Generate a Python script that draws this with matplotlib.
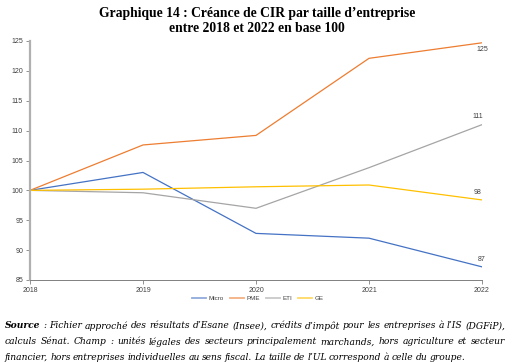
import matplotlib
matplotlib.use("Agg")
import matplotlib.pyplot as plt

years = [2018, 2019, 2020, 2021, 2022]
series_names = ["Micro", "PME", "ETI", "GE"]
micro = [100, 103.0, 92.8, 92.0, 87.2]
pme = [100, 107.6, 109.2, 122.1, 124.7]
eti = [100, 99.6, 97.0, 103.8, 111.0]
ge = [100, 100.2, 100.6, 100.9, 98.4]
end_labels = ["87", "125", "111", "98"]
y_ticks = [85, 90, 95, 100, 105, 110, 115, 120, 125]

source_lines = [
    "Source : Fichier approché des résultats d’Esane (Insee), crédits d’impôt pour les entreprises à l’IS (DGFiP),",
    "calculs Sénat. Champ : unités légales des secteurs principalement marchands, hors agriculture et secteur",
    "financier, hors entreprises individuelles au sens fiscal. La taille de l’UL correspond à celle du groupe.",
]

colors = ["#4472C4", "#ED7D31", "#A5A5A5", "#FFC000"]
values = [micro, pme, eti, ge]

W, H = 514, 362
fig = plt.figure(figsize=(W / 100, H / 100), dpi=100)
ax = fig.add_axes([30 / W, 1 - 280 / H, 452 / W, 239 / H])

for name, vals, c in zip(series_names, values, colors):
    ax.plot(years, vals, color=c, linewidth=0.9, label=name)

# labels at the last point
offsets = [(0, 3, "bottom"), (0, -2, "top"), (-3, 3, "bottom"), (-3, 3, "bottom")]
for vals, lab, (dx, dy, va) in zip(values, end_labels, offsets):
    ax.annotate(lab, (years[-1], vals[-1]), xytext=(dx, dy), textcoords="offset points",
                ha="center", va=va, fontsize=5, color="#404040", family="Liberation Sans")

ax.set_xlim(2018, 2022)
ax.set_ylim(85, 125)
ax.set_xticks(years)
ax.set_yticks(y_ticks)
ax.tick_params(axis="both", labelsize=5, colors="#808080", labelcolor="#404040",
               length=3, width=0.6, pad=2)
for lab in ax.get_xticklabels() + ax.get_yticklabels():
    lab.set_family("Liberation Sans")
for s in ["top", "right"]:
    ax.spines[s].set_visible(False)
ax.spines["left"].set_color("#b0b0b0")
ax.spines["left"].set_linewidth(1.6)
ax.spines["bottom"].set_color("#808080")
ax.spines["bottom"].set_linewidth(0.7)

leg = fig.legend(loc="center", bbox_to_anchor=(258 / W, 1 - 298 / H), ncol=4, frameon=False,
                 prop={"family": "Liberation Sans", "size": 4.5}, handlelength=2.2,
                 handletextpad=0.4, columnspacing=1.0)
for t in leg.get_texts():
    t.set_color("#404040")
for h in leg.get_lines():
    h.set_linewidth(1.3)
    h.set_alpha(0.6)

fig.text(0.5, 1 - 13 / H, "Graphique 14 : Créance de CIR par taille d’entreprise",
         ha="center", va="center", fontsize=9.8, fontweight="bold", family="Liberation Serif")
fig.text(0.5, 1 - 28 / H, "entre 2018 et 2022 en base 100",
         ha="center", va="center", fontsize=9.8, fontweight="bold", family="Liberation Serif")

# justified source note, word by word
src_font = {"family": "DejaVu Serif", "size": 6.6, "style": "italic"}
x_left, x_right = 5, 505
line_y = [326, 342, 357]
renderer = fig.canvas.get_renderer()
probe_sp = fig.text(0, 0, "a a", **src_font)
probe_aa = fig.text(0, 0, "aa", **src_font)
nat_gap = 0.8 * (probe_sp.get_window_extent(renderer).width - probe_aa.get_window_extent(renderer).width)
probe_sp.remove()
probe_aa.remove()
for i, (line, yy) in enumerate(zip(source_lines, line_y)):
    words = line.split(" ")
    texts = []
    for j, w in enumerate(words):
        weight = "bold" if (i == 0 and j == 0) else "normal"
        texts.append(fig.text(0, 1 - yy / H, w, va="center", ha="left", fontweight=weight, **src_font))
    widths = [t.get_window_extent(renderer).width for t in texts]
    if i < len(source_lines) - 1:
        gap = (x_right - x_left - sum(widths)) / (len(words) - 1)
    else:
        gap = nat_gap
    x = x_left
    for t, w in zip(texts, widths):
        t.set_x(x / W)
        x += w + gap

fig.savefig("out.png", dpi=100)
